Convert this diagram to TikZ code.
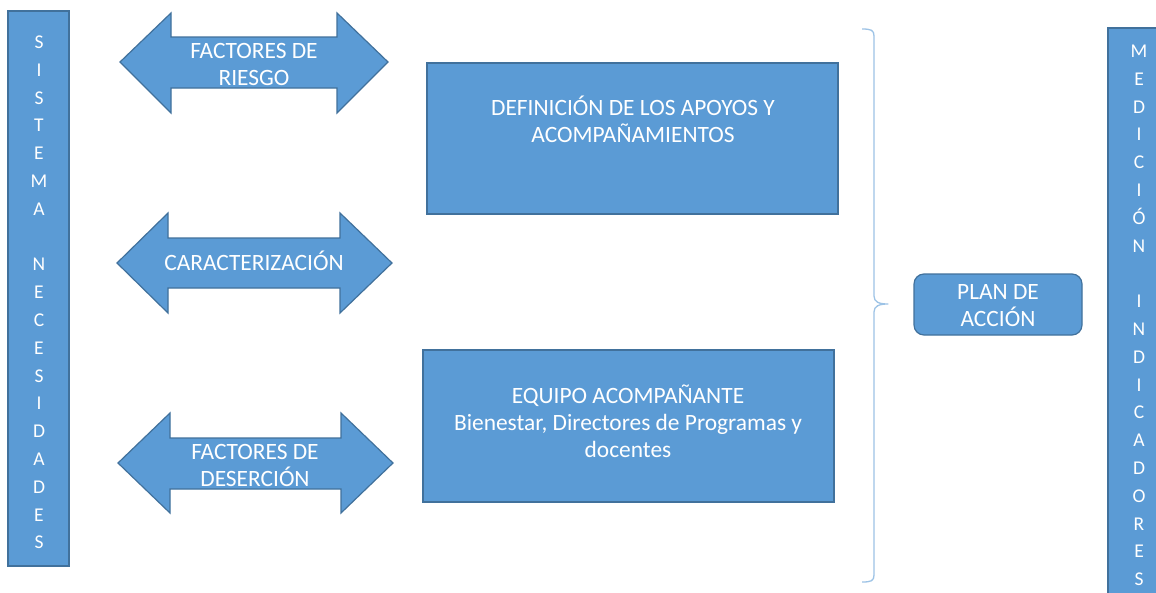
\documentclass[tikz,border=0pt]{standalone}
\usepackage{fontspec}
\setmainfont{Carlito}
\definecolor{boxfill}{HTML}{5B9BD5}
\definecolor{boxline}{HTML}{41719C}
\definecolor{bracecol}{HTML}{9DC3E6}
\begin{document}
\begin{tikzpicture}[x=1pt,y=-1pt,
  shapestyle/.style={fill=boxfill, draw=boxline, line width=1.2pt},
  lbl/.style={text=white, font=\fontsize{23.4}{27}\selectfont, align=center, inner sep=0pt},
  vlbl/.style={text=white, font=\fontsize{19.5}{27.8}\selectfont, align=center, inner sep=0pt}]
\useasboundingbox (0,0) rectangle (1156,592);
\clip (0,0) rectangle (1156,592);
\fill[white] (0,0) rectangle (1156,592);

% left bar
\node[shapestyle, minimum width=61pt, minimum height=555pt, inner sep=0pt] (sn) at (38.5,288.5) {};
\node[vlbl] (snt) at (39,292.5) {S\\I\\S\\T\\E\\M\\A\\[27.8pt]N\\E\\C\\E\\S\\I\\D\\A\\D\\E\\S};

% right bar
\node[shapestyle, minimum width=61pt, minimum height=612pt, inner sep=0pt] (mi) at (1138.5,334) {};
\node[vlbl] (mit) at (1139,315.5) {M\\E\\D\\I\\C\\I\\Ó\\N\\[27.8pt]I\\N\\D\\I\\C\\A\\D\\O\\R\\E\\S};

% double arrows
\draw[shapestyle] (120,62) -- (171,13) -- (171,37) -- (337,37) -- (337,13) -- (388,62)
  -- (337,113) -- (337,88) -- (171,88) -- (171,113) -- cycle;
\node[lbl] (fr) at (254,64) {FACTORES DE\\RIESGO};

\draw[shapestyle] (117,263) -- (168,213) -- (168,238) -- (340,238) -- (340,213) -- (392,263)
  -- (340,313) -- (340,288) -- (168,288) -- (168,313) -- cycle;
\node[lbl] (car) at (254,260.5) {CARACTERIZACIÓN};

\draw[shapestyle] (118,463) -- (170,413) -- (170,438) -- (341,438) -- (341,413) -- (393,463)
  -- (341,513) -- (341,489) -- (170,489) -- (170,513) -- cycle;
\node[lbl] (fd) at (255,465) {FACTORES DE\\DESERCIÓN};

% boxes
\node[shapestyle, minimum width=411pt, minimum height=151pt, inner sep=0pt] (def) at (632.5,138.5) {};
\node[lbl] (deft) at (633,119.5) {DEFINICIÓN DE LOS APOYOS Y\\ACOMPAÑAMIENTOS};

\node[shapestyle, minimum width=411pt, minimum height=152pt, inner sep=0pt] (eq) at (628.5,426) {};
\node[lbl] (eqt) at (628,421) {EQUIPO ACOMPAÑANTE\\Bienestar, Directores de Programas y\\docentes};

% plan de accion
\node[shapestyle, rounded corners=10pt, minimum width=168pt, minimum height=61pt, inner sep=0pt] (plan) at (998,304.5) {};
\node[lbl] (plant) at (998,306) {PLAN DE\\ACCIÓN};

% brace
\coordinate (btip) at (888,304);
\draw[bracecol, line width=1.3pt, line join=round]
  (862,29) .. controls (871,29) and (874,30) .. (874,36) -- (874,296)
  .. controls (874,302) and (879,304) .. (btip)
  .. controls (879,304) and (874,306) .. (874,312) -- (874,575)
  .. controls (874,581) and (871,582) .. (862,582);
\end{tikzpicture}
\end{document}
